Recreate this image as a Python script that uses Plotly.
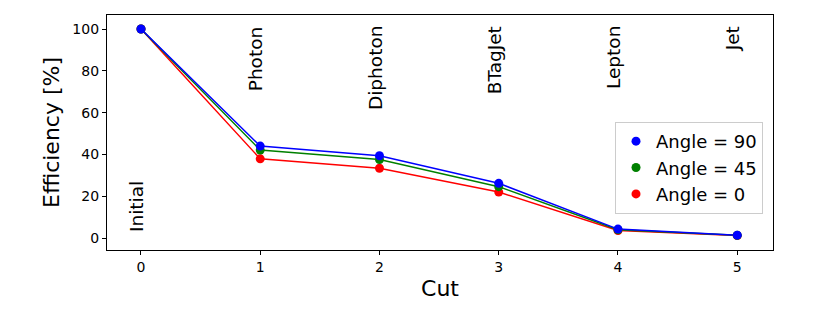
import plotly.graph_objects as go

cuts = [0, 1, 2, 3, 4, 5]
cut_names = ["Initial", "Photon", "Diphoton", "BTagJet", "Lepton", "Jet"]
eff_90 = [100, 44.0, 39.4, 26.2, 4.3, 1.4]
eff_45 = [100, 42.1, 37.6, 24.6, 4.0, 1.3]
eff_0 = [100, 37.9, 33.4, 22.0, 3.6, 1.2]

series = [
    ("Angle = 0", eff_0, "#ff0000"),
    ("Angle = 45", eff_45, "#008000"),
    ("Angle = 90", eff_90, "#0000ff"),
]

fig = go.Figure()
for name, vals, col in series:
    fig.add_trace(go.Scatter(x=cuts, y=vals, mode="lines", line=dict(color=col, width=1.5),
                             showlegend=False, hoverinfo="skip"))
for name, vals, col in series:
    fig.add_trace(go.Scatter(x=cuts, y=vals, mode="markers", name=name,
                             marker=dict(color=col, size=9)))

font = "DejaVu Sans"
for i, lab in enumerate(cut_names):
    if i == 0:
        fig.add_annotation(x=cuts[i], y=2.4, text=lab, textangle=-90, showarrow=False,
                           xanchor="center", yanchor="bottom", xshift=-4.5, borderpad=0,
                           font=dict(family=font, size=18.5, color="black"))
    else:
        fig.add_annotation(x=cuts[i], y=101.9, text=lab, textangle=-90, showarrow=False,
                           xanchor="center", yanchor="top", xshift=-4.5, borderpad=0,
                           font=dict(family=font, size=18.5, color="black"))

axis_common = dict(showline=True, linecolor="black", linewidth=1.3, mirror=True,
                   ticks="outside", ticklen=4, tickwidth=1.2, tickcolor="black",
                   showgrid=False, zeroline=False,
                   tickfont=dict(family=font, size=14, color="black"))

fig.update_xaxes(range=[-0.285, 5.30], tickvals=cuts, ticktext=[str(c) for c in cuts],
                 title=dict(text="Cut", font=dict(family=font, size=22, color="black"), standoff=6),
                 **axis_common)
fig.update_yaxes(range=[-5.7, 106.7], tickvals=[0, 20, 40, 60, 80, 100],
                 title=dict(text="Efficiency [%]", font=dict(family=font, size=22, color="black"), standoff=6),
                 **axis_common)

fig.update_layout(
    width=830, height=312,
    margin=dict(l=99, r=65, t=7, b=70),
    plot_bgcolor="white", paper_bgcolor="white",
    font=dict(family=font, color="black"),
    legend=dict(x=0.985, y=0.545, xanchor="right", yanchor="top",
                traceorder="reversed", bordercolor="#cccccc", borderwidth=1,
                bgcolor="rgba(255,255,255,0.8)",
                font=dict(family=font, size=18, color="black")),
)

fig.write_html("out.html")
